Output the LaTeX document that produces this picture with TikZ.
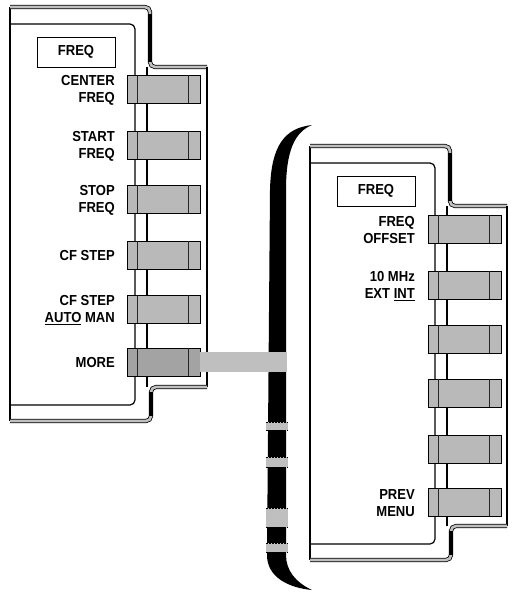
\documentclass[tikz,border=0pt]{standalone}
\usepackage{fontspec}
\setmainfont{Liberation Sans}
\newfontfamily\keyfont[FakeStretch=0.9]{Liberation Sans}
\begin{document}
\begin{tikzpicture}[x=1pt,y=-1pt,
  lbl/.style={font=\keyfont\fontsize{14.5}{17}\selectfont\bfseries, align=right, anchor=east, inner sep=0pt},
  keybox/.style={draw=black, line width=0.9pt, fill=gray!55, minimum width=73pt, minimum height=28pt, inner sep=0pt},
  morebox/.style={keybox, fill=gray!72},
  keyline/.style={line width=1.2pt, black!85},
  band/.style={draw=black, line width=0.8pt, double=gray!50, double distance=2.6pt, rounded corners=5pt},
  edge/.style={line width=1.2pt, black},
  heavy/.style={line width=3.5pt, black},
  titlebox/.style={draw=black, line width=0.9pt, minimum width=78pt, minimum height=30pt, inner sep=0pt, font=\keyfont\fontsize{14.5}{17}\selectfont\bfseries},
  linkbar/.style={line width=20pt, gray!50},
  stripe/.style={fill=gray!50},
  stripeedge/.style={line width=0.6pt, dash pattern=on 2pt off 1pt, black}
]
\useasboundingbox (0,0) rectangle (514,592);

% ---------- left panel ----------
\begin{scope}
  \draw[edge] (10,7) -- (10,421);
  \draw[band] (10,7) -- (150,7) -- (150,67) -- (207,67);
  \draw[heavy] (150,14) -- (150,62);
  \draw[edge] (207,67) -- (207,387);
  \draw[band] (207,387) -- (151,387) -- (151,421) -- (10,421);
  \draw[heavy] (151,392) -- (151,416);
  \draw[edge, rounded corners=5pt] (10,24) -- (135,24) -- (135,405) -- (10,405);
  \draw[edge] (147,67) -- (147,387);
  \node[titlebox] (lfreq) at (76,52) {FREQ};
  \foreach \n/\y/\t in {1/89/{CENTER\\FREQ}, 2/145/{START\\FREQ}, 3/199/{STOP\\FREQ}, 4/255/{CF STEP}, 5/309/{CF STEP\\\underline{AUTO} MAN}}{
    \node[keybox] (lk\n) at (163.5,\y) {};
    \draw[keyline] ([xshift=11pt]lk\n.north west) -- ([xshift=11pt]lk\n.south west);
    \draw[keyline] ([xshift=-12pt]lk\n.north east) -- ([xshift=-12pt]lk\n.south east);
    \node[lbl] (lt\n) at (115,\y+1) {\t};
  }
  \node[morebox] (lk6) at (163.5,362) {};
  \draw[keyline] ([xshift=11pt]lk6.north west) -- ([xshift=11pt]lk6.south west);
  \draw[keyline] ([xshift=-12pt]lk6.north east) -- ([xshift=-12pt]lk6.south east);
  \node[lbl] (lt6) at (115,363) {MORE};
\end{scope}

% ---------- right panel ----------
\begin{scope}[shift={(300,139)}]
  \draw[edge] (10,7) -- (10,421);
  \draw[band] (10,7) -- (150,7) -- (150,67) -- (207,67);
  \draw[heavy] (150,14) -- (150,62);
  \draw[edge] (207,67) -- (207,387);
  \draw[band] (207,387) -- (151,387) -- (151,421) -- (10,421);
  \draw[heavy] (151,392) -- (151,416);
  \draw[edge, rounded corners=5pt] (10,24) -- (135,24) -- (135,405) -- (10,405);
  \draw[edge] (147,67) -- (147,387);
  \node[titlebox] (rfreq) at (76,52) {FREQ};
  \foreach \n/\y/\t in {1/90/{FREQ\\OFFSET}, 2/146/{10 MHz\\EXT \underline{INT}}, 3/200/{}, 4/254/{}, 5/310/{}, 6/363/{PREV\\MENU}}{
    \node[keybox] (rk\n) at (164.5,\y) {};
    \draw[keyline] ([xshift=11pt]rk\n.north west) -- ([xshift=11pt]rk\n.south west);
    \draw[keyline] ([xshift=-12pt]rk\n.north east) -- ([xshift=-12pt]rk\n.south east);
    \node[lbl] (rt\n) at (115,\y+1) {\t};
  }
\end{scope}

% ---------- bracket ----------
\fill[black] (312,125) .. controls (285,128) and (271,145) .. (270,190)
  -- (267,555) .. controls (267,578) and (290,588) .. (312,590)
  .. controls (295,582) and (286,570) .. (286,555)
  -- (286,190) .. controls (286,150) and (295,132) .. (312,125) -- cycle;
\foreach \a/\b in {422/430, 457/467, 508/527, 543/552}{
  \fill[stripe] (266,\a) rectangle (288,\b);
  \draw[stripeedge] (266,\a) -- (288,\a);
  \draw[stripeedge] (266,\b) -- (288,\b);
}

% ---------- connector ----------
\coordinate (brk) at (287,362);
\draw[linkbar] (lk6.east) -- (brk);
\end{tikzpicture}
\end{document}
